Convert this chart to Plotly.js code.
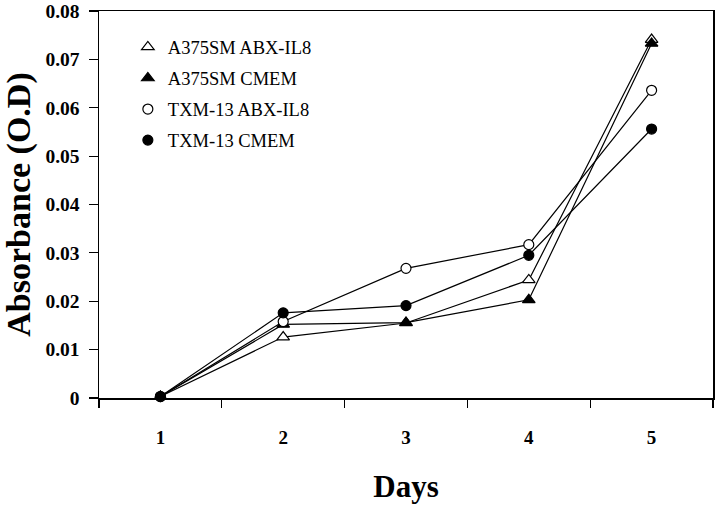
<!DOCTYPE html>
<html>
<head>
<meta charset="utf-8">
<script src="https://cdn.plot.ly/plotly-3.0.1.min.js"></script>
<style>html,body{margin:0;padding:0;background:#fff;}#chart{width:720px;height:506px;}</style>
</head>
<body>
<div id="chart"></div>
<script>
const days = ['1', '2', '3', '4', '5'];
const seriesNames = ['A375SM ABX-IL8', 'A375SM CMEM', 'TXM-13 ABX-IL8', 'TXM-13 CMEM'];
const a375Abx = [0.0003, 0.0126, 0.0155, 0.0244, 0.0741];
const a375Cmem = [0.0003, 0.0152, 0.0156, 0.0203, 0.0733];
const txmAbx = [0.0003, 0.0158, 0.0268, 0.0317, 0.0636];
const txmCmem = [0.0003, 0.0176, 0.0191, 0.0295, 0.0556];
const yTicks = [0, 0.01, 0.02, 0.03, 0.04, 0.05, 0.06, 0.07, 0.08];
const yTickText = ['0', '0.01', '0.02', '0.03', '0.04', '0.05', '0.06', '0.07', '0.08'];

const seriesValues = [a375Abx, a375Cmem, txmAbx, txmCmem];
const symbols = ['triangle-up', 'triangle-up', 'circle', 'circle'];
const fills = ['#ffffff', '#000000', '#ffffff', '#000000'];
const sizes = [11, 11, 10, 10];

const traces = [];
seriesValues.forEach((vals, i) => {
  traces.push({
    x: days, y: vals, type: 'scatter', mode: 'lines',
    line: {color: '#000', width: 1.2},
    showlegend: false, hoverinfo: 'skip', cliponaxis: false
  });
});
seriesValues.forEach((vals, i) => {
  traces.push({
    x: days, y: vals, type: 'scatter', mode: 'markers',
    name: seriesNames[i], legendgroup: 'g' + i,
    marker: {symbol: symbols[i], size: sizes[i], color: fills[i], line: {color: '#000', width: 1.2}},
    cliponaxis: false
  });
});

const serif = 'Liberation Serif, Times New Roman, serif';
const layout = {
  width: 720, height: 506,
  margin: {l: 99, r: 7, t: 11, b: 108},
  paper_bgcolor: '#fff', plot_bgcolor: '#fff',
  font: {family: serif, color: '#000'},
  showlegend: true,
  legend: {
    x: 0.047, y: 0.955, xanchor: 'left', yanchor: 'top',
    bgcolor: 'rgba(0,0,0,0)', borderwidth: 0,
    font: {family: serif, size: 18.5, color: '#000'},
    traceorder: 'grouped', tracegroupgap: 4
  },
  xaxis: {
    type: 'category', range: [-0.5, 4.5],
    tickson: 'boundaries', ticks: 'outside', ticklen: 8, tickwidth: 1.2, tickcolor: '#000',
    showline: true, linecolor: '#000', linewidth: 1.5, mirror: true,
    showgrid: false, zeroline: false,
    tickfont: {family: serif, size: 19, weight: 'bold', color: '#000'},
    ticklabelstandoff: 22,
    title: {text: '<b>Days</b>', font: {family: serif, size: 31, color: '#000'}, standoff: 28}
  },
  yaxis: {
    range: [0, 0.08], tickvals: yTicks, ticktext: yTickText,
    ticks: 'outside', ticklen: 9, tickwidth: 1.2, tickcolor: '#000',
    showline: true, linecolor: '#000', linewidth: 1.5, mirror: true,
    showgrid: false, zeroline: false,
    tickfont: {family: serif, size: 19.5, weight: 'bold', color: '#000'},
    ticklabelstandoff: 5,
    title: {text: '<b>Absorbance (O.D)</b>', font: {family: serif, size: 34, color: '#000'}, standoff: 9}
  }
};
Plotly.newPlot('chart', traces, layout, {displayModeBar: false, staticPlot: true});
</script>
</body>
</html>
